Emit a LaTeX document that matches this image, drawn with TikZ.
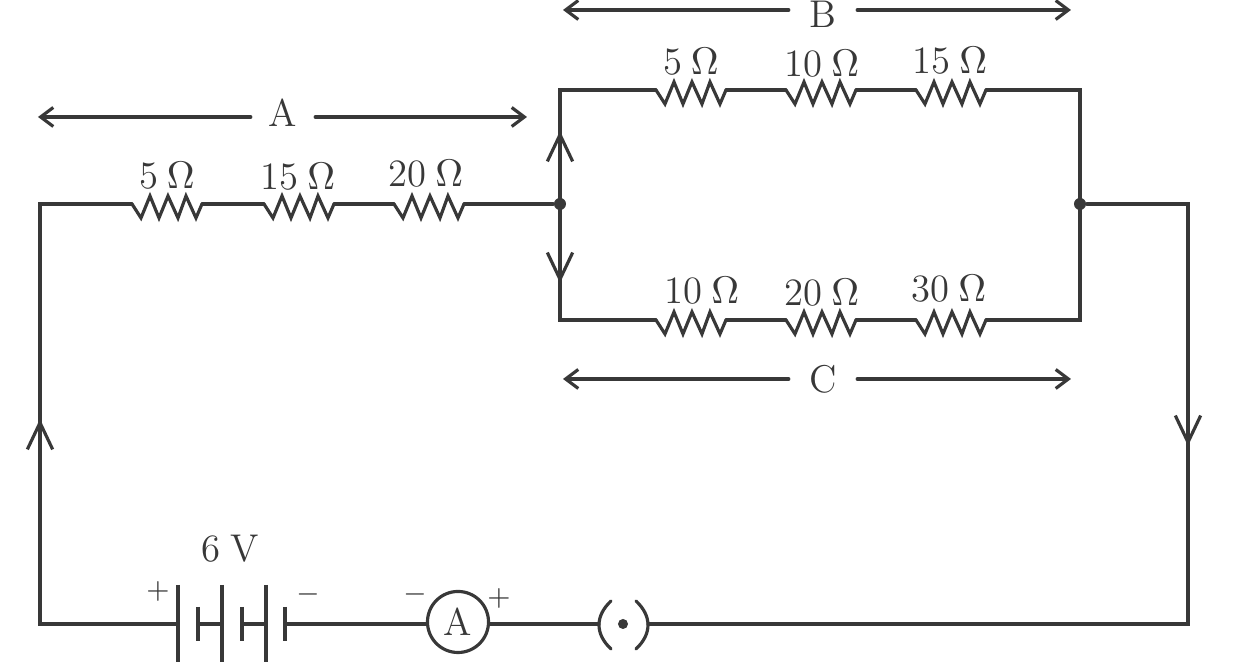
\documentclass[tikz,border=0pt]{standalone}
\usetikzlibrary{arrows.meta}

\begin{document}
\begin{tikzpicture}[x=0.01cm,y=-0.01cm,line cap=round,line join=miter]
  % Colors
  \colorlet{wirecolor}{black!78}

  % Styles
  \tikzstyle{wire}=[draw=wirecolor,line width=0.9pt]
  \tikzstyle{plate}=[draw=wirecolor,line width=0.95pt,line cap=butt]
  \tikzstyle{current}=[wire,-{Straight Barb[length=7.6pt,width=7.2pt,line width=0.9pt]}]
  \tikzstyle{span}=[wire,-{Straight Barb[length=3.6pt,width=5.4pt,line width=0.9pt]}]
  \tikzstyle{label}=[text=wirecolor,font=\fontsize{11}{13}\selectfont,inner sep=0pt]
  \tikzstyle{sign}=[text=wirecolor,font=\fontsize{8.5}{10}\selectfont,inner sep=0pt]
  \tikzstyle{junction}=[circle,fill=wirecolor,inner sep=0pt,minimum size=0.12cm]

  \useasboundingbox (0,-1) rectangle (1253,667);
  \fill[white] (0,-1) rectangle (1253,667);

  % The corners and junctions
  \coordinate (sw) at (40,623);
  \coordinate (nw) at (40,203);
  \coordinate (se) at (1188,623);
  \coordinate (ne) at (1188,203);
  \coordinate (btl) at (560,89);
  \coordinate (btr) at (1080,89);
  \coordinate (bbl) at (560,319);
  \coordinate (bbr) at (1080,319);
  \node[junction] (jl) at (560,203) {};
  \node[junction] (jr) at (1080,203) {};

  % The resistors
  \foreach \rname/\x/\y/\rtext/\lx/\ly in {
      ra/132/203/5/167/175, rb/264/203/15/298/176, rc/394/203/20/426/173,
      rd/656/89/5/691/61, re/786/89/10/822/63, rf/916/89/15/950/60,
      rg/656/319/10/702/290, rh/786/319/20/822/292, ri/916/319/30/949/288}
  {
    \coordinate (\rname i) at (\x,\y);
    \draw[wire] (\rname i) -- ++(9,14) -- ++(9,-22) -- ++(9,22) -- ++(9,-22)
      -- ++(10,22) -- ++(8,-22) -- ++(10,22) -- ++(6,-14) coordinate (\rname o);
    \node[label] (\rname t) at (\lx,\ly) {\rtext\hspace{0.22em}$\Omega$};
  }

  % The battery, the ammeter and the bulb
  \foreach \pname/\x in {pa/178,pb/222,pc/266}
    \draw[plate] (\x,584) coordinate (\pname t) -- (\x,661) coordinate (\pname b);
  \foreach \pname/\x in {qa/198,qb/242,qc/285}
    \draw[plate] (\x,606) coordinate (\pname t) -- (\x,640) coordinate (\pname b);
  \coordinate (pal) at (178,623);
  \coordinate (pbl) at (222,623);
  \coordinate (pcl) at (266,623);
  \coordinate (qal) at (198,623);
  \coordinate (qbl) at (242,623);
  \coordinate (qcl) at (285,623);

  \node[draw=wirecolor,line width=0.9pt,circle,minimum size=0.61cm,inner sep=0pt,
    text=wirecolor,font=\fontsize{11}{13}\selectfont] (amm) at (458,621) {A};

  \node[junction,minimum size=0.1cm] (bulb) at (623,623) {};
  \coordinate (bulbl) at (599,623);
  \coordinate (bulbr) at (648,623);
  \draw[wire] (611,600) .. controls (595,615) and (595,633) .. (611,648);
  \draw[wire] (636,600) .. controls (652,615) and (652,633) .. (636,648);

  % The wires
  \draw[wire] (pal) -- (sw) -- (nw) -- (rai);
  \draw[wire] (rao) -- (rbi) (rbo) -- (rci) (rco) -- (jl);
  \draw[wire] (rdi) -- (btl) -- (bbl) -- (rgi);
  \draw[wire] (rdo) -- (rei) (reo) -- (rfi) (rfo) -- (btr) -- (bbr) -- (rio);
  \draw[wire] (rgo) -- (rhi) (rho) -- (rii);
  \draw[wire] (jr) -- (ne) -- (se) -- (bulbr);
  \draw[wire] (qal) -- (pbl) (qbl) -- (pcl);
  \draw[wire] (qcl) -- (amm.west |- qcl) (amm.east |- bulbl) -- (bulbl);

  % The current arrows
  \draw[current] (40,450) coordinate (ca) -- (40,418);
  \draw[current] (1188,410) coordinate (cb) -- (1188,445);
  \draw[current] (560,165) coordinate (cc) -- (560,130);
  \draw[current] (560,245) coordinate (cd) -- (560,282);

  % The spans
  \node[label,minimum width=0.63cm] (spa) at (283,112) {A};
  \node[label,minimum width=0.67cm] (spb) at (823,13.5) {B};
  \node[label,minimum width=0.67cm] (spc) at (823,378) {C};
  \coordinate (spal) at (38,116);
  \coordinate (spar) at (527,116);
  \coordinate (spbl) at (563,9);
  \coordinate (spbr) at (1071,9);
  \coordinate (spcl) at (563,378);
  \coordinate (spcr) at (1071,378);
  \draw[span] (spa.west |- spal) -- (spal);
  \draw[span] (spa.east |- spar) -- (spar);
  \draw[span] (spb.west |- spbl) -- (spbl);
  \draw[span] (spb.east |- spbr) -- (spbr);
  \draw[span] (spc.west |- spcl) -- (spcl);
  \draw[span] (spc.east |- spcr) -- (spcr);

  % The signs
  \node[label] (volt) at (230,548) {6\hspace{0.25em}V};
  \node[sign] (batp) at (158,590) {$+$};
  \node[sign] (batm) at (308,593) {$-$};
  \node[sign] (ammm) at (415,593) {$-$};
  \node[sign] (ammp) at (499,597) {$+$};
\end{tikzpicture}
\end{document}
